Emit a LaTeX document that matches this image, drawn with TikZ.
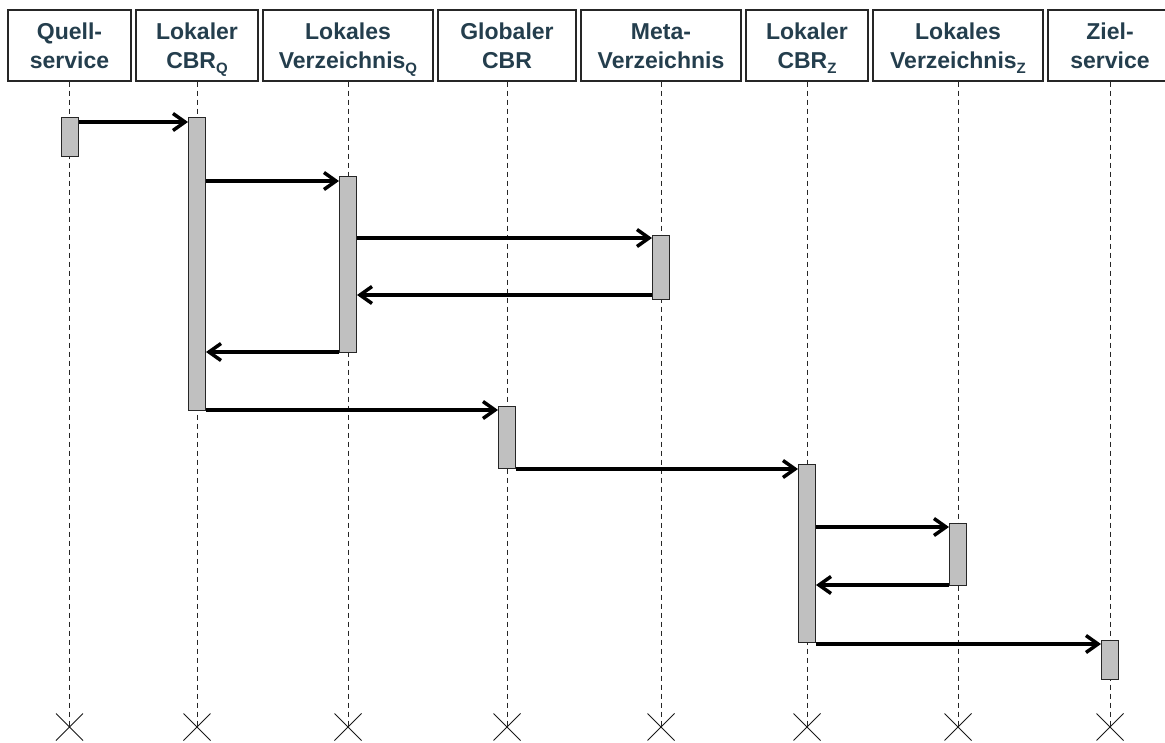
\documentclass[tikz,border=0pt]{standalone}
\usepackage{fontspec}
\setmainfont{Liberation Sans}
\usetikzlibrary{arrows.meta,positioning,shapes.misc}
\definecolor{headtext}{RGB}{36,62,77}
\definecolor{actgray}{RGB}{192,192,192}
\newcommand{\lidx}[1]{\raisebox{-5pt}[0pt][0pt]{\fontsize{15}{15}\selectfont #1}}
\newcommand{\twolines}[2]{\rule{0pt}{26pt}#1\\#2\rule[-9pt]{0pt}{9pt}}

\begin{document}
\begin{tikzpicture}[
  x=1pt,y=-1pt,
  head/.style={draw=black!85,line width=1.3pt,minimum height=71pt,inner sep=0pt,
               align=center,text=headtext,
               font=\fontsize{23}{29}\selectfont\bfseries},
  act/.style={draw=black!85,line width=1pt,fill=actgray,minimum width=17pt,
              inner sep=0pt},
  life/.style={black!85,line width=1pt,dash pattern=on 5pt off 4pt},
  endx/.style={cross out,draw=black!90,line width=1pt,minimum size=26pt,
               inner sep=0pt},
  msg/.style={-{Straight Barb[length=12pt,width=17pt,line width=3.5pt]},line width=3.5pt},
]
\useasboundingbox (0,0) rectangle (1165,743);

% lifeline heads
\node[head,minimum width=123pt] (quell) at (69.5,45.5) {\twolines{Quell-}{service}};
\node[head,minimum width=122pt] (cbrq)  at (197,45.5) {\twolines{Lokaler}{CBR\lidx{Q}}};
\node[head,minimum width=170pt] (verzq) at (348,45.5) {\twolines{Lokales}{Verzeichnis\lidx{Q}}};
\node[head,minimum width=138pt] (glob)  at (507,45.5) {\twolines{Globaler}{CBR}};
\node[head,minimum width=160pt] (meta)  at (661,45.5) {\twolines{Meta-}{Verzeichnis}};
\node[head,minimum width=122pt] (cbrz)  at (807,45.5) {\twolines{Lokaler}{CBR\lidx{Z}}};
\node[head,minimum width=170pt] (verzz) at (958,45.5) {\twolines{Lokales}{Verzeichnis\lidx{Z}}};
\node[head,minimum width=124pt] (ziel)  at (1110,45.5) {\twolines{Ziel-}{service}};

% ends
\node[endx] (xquell) at (69.5,727) {};
\node[endx] (xcbrq)  at (197,727) {};
\node[endx] (xverzq) at (348,727) {};
\node[endx] (xglob)  at (507,727) {};
\node[endx] (xmeta)  at (661,727) {};
\node[endx] (xcbrz)  at (807,727) {};
\node[endx] (xverzz) at (958,727) {};
\node[endx] (xziel)  at (1110,727) {};

\draw[life] (quell.south) -- (xquell.center);
\draw[life] (cbrq.south)  -- (xcbrq.center);
\draw[life] (verzq.south) -- (xverzq.center);
\draw[life] (glob.south)  -- (xglob.center);
\draw[life] (meta.south)  -- (xmeta.center);
\draw[life] (cbrz.south)  -- (xcbrz.center);
\draw[life] (verzz.south) -- (xverzz.center);
\draw[life] (ziel.south)  -- (xziel.center);

% activations
\node[act,minimum height=39pt]  (aquell) at (69.5,137.5) {};
\node[act,minimum height=292pt] (acbrq)  at (197,264) {};
\node[act,minimum height=176pt] (averzq) at (348,265) {};
\node[act,minimum height=64pt]  (ameta)  at (661,268) {};
\node[act,minimum height=62pt]  (aglob)  at (507,437) {};
\node[act,minimum height=178pt] (acbrz)  at (807,553) {};
\node[act,minimum height=62pt]  (averzz) at (958,554) {};
\node[act,minimum height=39pt]  (aziel)  at (1110,659.5) {};

% message rows
\coordinate (m1)  at (0,122);
\coordinate (m2)  at (0,181);
\coordinate (m3)  at (0,238);
\coordinate (m4)  at (0,295);
\coordinate (m5)  at (0,352);
\coordinate (m6)  at (0,410);
\coordinate (m7)  at (0,469);
\coordinate (m8)  at (0,527);
\coordinate (m9)  at (0,585);
\coordinate (m10) at (0,644);

\draw[msg] (aquell.east |- m1)  -- (acbrq.west |- m1);
\draw[msg] (acbrq.east |- m2)   -- (averzq.west |- m2);
\draw[msg] (averzq.east |- m3)  -- (ameta.west |- m3);
\draw[msg] (ameta.west |- m4)   -- (averzq.east |- m4);
\draw[msg] (averzq.west |- m5)  -- (acbrq.east |- m5);
\draw[msg] (acbrq.east |- m6)   -- (aglob.west |- m6);
\draw[msg] (aglob.east |- m7)   -- (acbrz.west |- m7);
\draw[msg] (acbrz.east |- m8)   -- (averzz.west |- m8);
\draw[msg] (averzz.west |- m9)  -- (acbrz.east |- m9);
\draw[msg] (acbrz.east |- m10)  -- (aziel.west |- m10);
\end{tikzpicture}
\end{document}
